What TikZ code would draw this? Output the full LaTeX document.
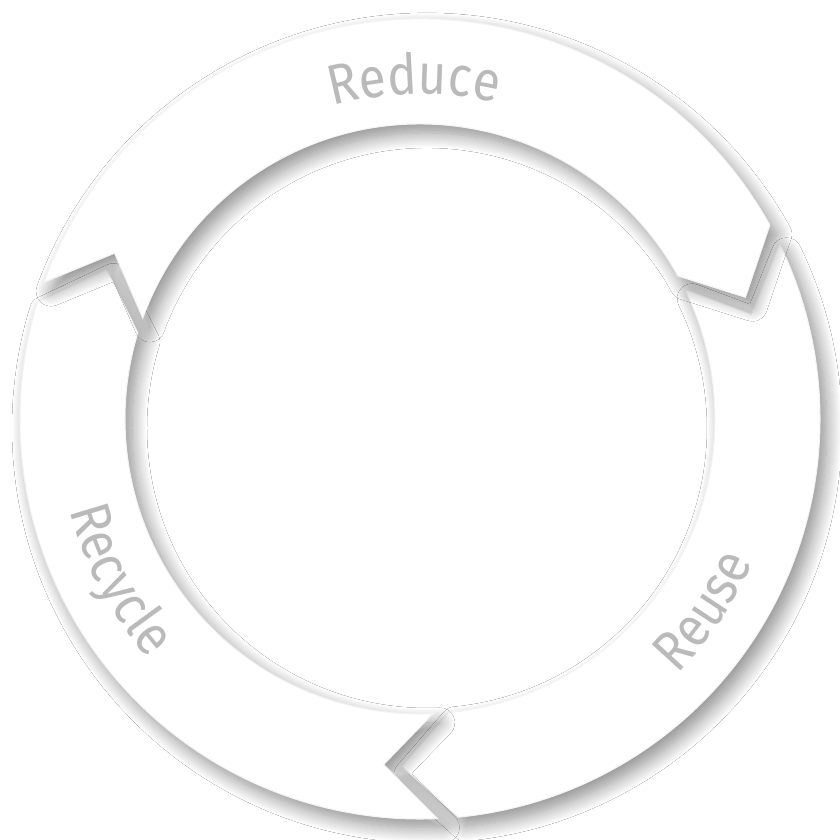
\documentclass[tikz,border=0pt]{standalone}
\usepackage{fontspec}
\newfontfamily\labelfont[FakeStretch=0.88]{Fira Sans}
\usepackage{tikz}
\usetikzlibrary{shadows.blur, decorations.text}
\definecolor{labelgray}{RGB}{186,186,186}
\definecolor{edgegray}{RGB}{244,244,244}

\begin{document}
\begin{tikzpicture}[
    segment/.style={fill=white, draw=edgegray, line width=0.3pt,
        blur shadow={shadow xshift=0.07cm, shadow yshift=-0.09cm,
            shadow blur radius=0.15cm, shadow blur extra rounding=0pt,
            shadow blur steps=16, shadow opacity=45}},
    label/.style={decorate, decoration={text along path, text align=center,
        text={|\labelfont\fontsize{16}{19}\selectfont\color{labelgray}|#1}}}
]
    \useasboundingbox[fill=white] (-4.2, -4.21) rectangle (4.2, 4.19);

    % ring segments, outer r = 4, inner r = 2.95
    \fill[segment] (26:4) arc (26:-84.5:4) -- (-93:3.475) -- (-84.5:2.95)
        arc (-84.5:26:2.95) -- (17.5:3.475) -- cycle;
    \fill[segment] (-87.5:4) arc (-87.5:-197:4) -- (-205.5:3.475) -- (-197:2.95)
        arc (-197:-87.5:2.95) -- (-96:3.475) -- cycle;
    \fill[segment] (160:4) arc (160:29:4) -- (20.5:3.475) -- (29:2.95)
        arc (29:160:2.95) -- (151.5:3.475) -- cycle;

    % labels
    \path[label={Reduce}] (150:3.25) arc (150:32:3.25);
    \path[label={Reuse}] (-80:3.62) arc (-80:12:3.62);
    \path[label={Recycle}] (170:3.62) arc (170:246:3.62);
\end{tikzpicture}
\end{document}
